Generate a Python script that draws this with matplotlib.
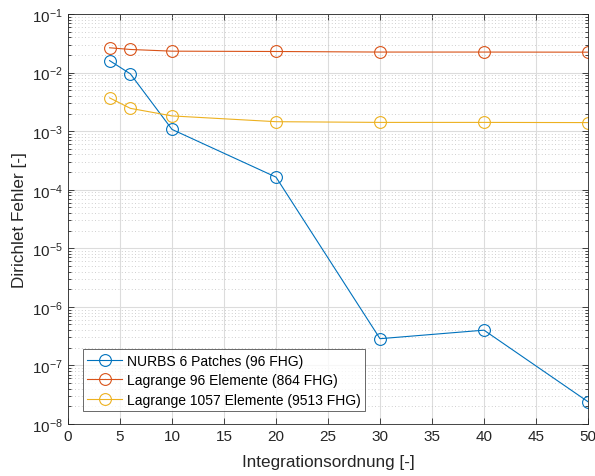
import numpy as np
import matplotlib
matplotlib.use("Agg")
from matplotlib import pyplot as plt
from matplotlib.ticker import LogLocator, NullFormatter, MultipleLocator

plt.rcParams['font.family'] = ['Liberation Sans', 'DejaVu Sans']
plt.rcParams['mathtext.fontset'] = 'custom'
plt.rcParams['mathtext.rm'] = 'Liberation Sans'
plt.rcParams['mathtext.it'] = 'Liberation Sans'

# Integrationsordnung
ordnung = [4, 6, 10, 20, 30, 40, 50]

# Dirichlet-Fehler je Diskretisierung
nurbs = [0.016, 0.0095, 0.00107, 1.64e-4, 2.86e-7, 4.0e-7, 2.4e-8]
lagrange_96 = [0.0265, 0.0248, 0.0232, 0.0229, 0.0224, 0.0224, 0.0223]
lagrange_1057 = [0.0037, 0.00245, 0.00182, 0.00145, 0.00141, 0.00141, 0.00140]

labels = ['NURBS 6 Patches (96 FHG)',
          'Lagrange 96 Elemente (864 FHG)',
          'Lagrange 1057 Elemente (9513 FHG)']
colors = ['#0072BD', '#D95319', '#EDB120']

fig = plt.figure(figsize=(5.95, 4.77), dpi=100)
ax = fig.add_axes([68/595, 1 - 425/477, 520/595, 410/477])

for ys, lab, c in zip([nurbs, lagrange_96, lagrange_1057], labels, colors):
    ax.semilogy(ordnung, ys, '-o', color=c, lw=0.8, ms=8.5, mfc='none',
                mew=0.8, label=lab)

ax.set_xlim(0, 50)
ax.set_ylim(1e-8, 1e-1)
ax.xaxis.set_major_locator(MultipleLocator(5))
ax.yaxis.set_major_locator(LogLocator(base=10, numticks=20))
ax.yaxis.set_minor_locator(LogLocator(base=10, subs=np.arange(2, 10), numticks=20))
ax.yaxis.set_minor_formatter(NullFormatter())

ax.grid(True, which='major', color='#dcdcdc', lw=0.8)
ax.grid(True, which='minor', axis='y', color='#c0c0c0', lw=0.6, ls=(0, (1, 3)))
ax.set_axisbelow(True)

ax.tick_params(which='both', direction='in', top=True, right=True,
               labelsize=11, colors='#262626', width=0.6)
ax.tick_params(which='major', length=4)
ax.tick_params(which='minor', length=2)
for s in ax.spines.values():
    s.set_color('#262626')
    s.set_linewidth(0.6)

ax.set_xlabel('Integrationsordnung [-]', fontsize=12.3, color='#262626',
              labelpad=8)
ax.set_ylabel('Dirichlet Fehler [-]', fontsize=12.3, color='#262626')

leg = ax.legend(loc='lower left', fontsize=10, frameon=True, fancybox=False,
                edgecolor='#262626', borderpad=0.3, labelspacing=0.4,
                handlelength=2.5, handletextpad=0.35, borderaxespad=0,
                bbox_to_anchor=(0.029, 0.032))
leg.get_frame().set_linewidth(0.6)

fig.savefig('out.png', dpi=100)
